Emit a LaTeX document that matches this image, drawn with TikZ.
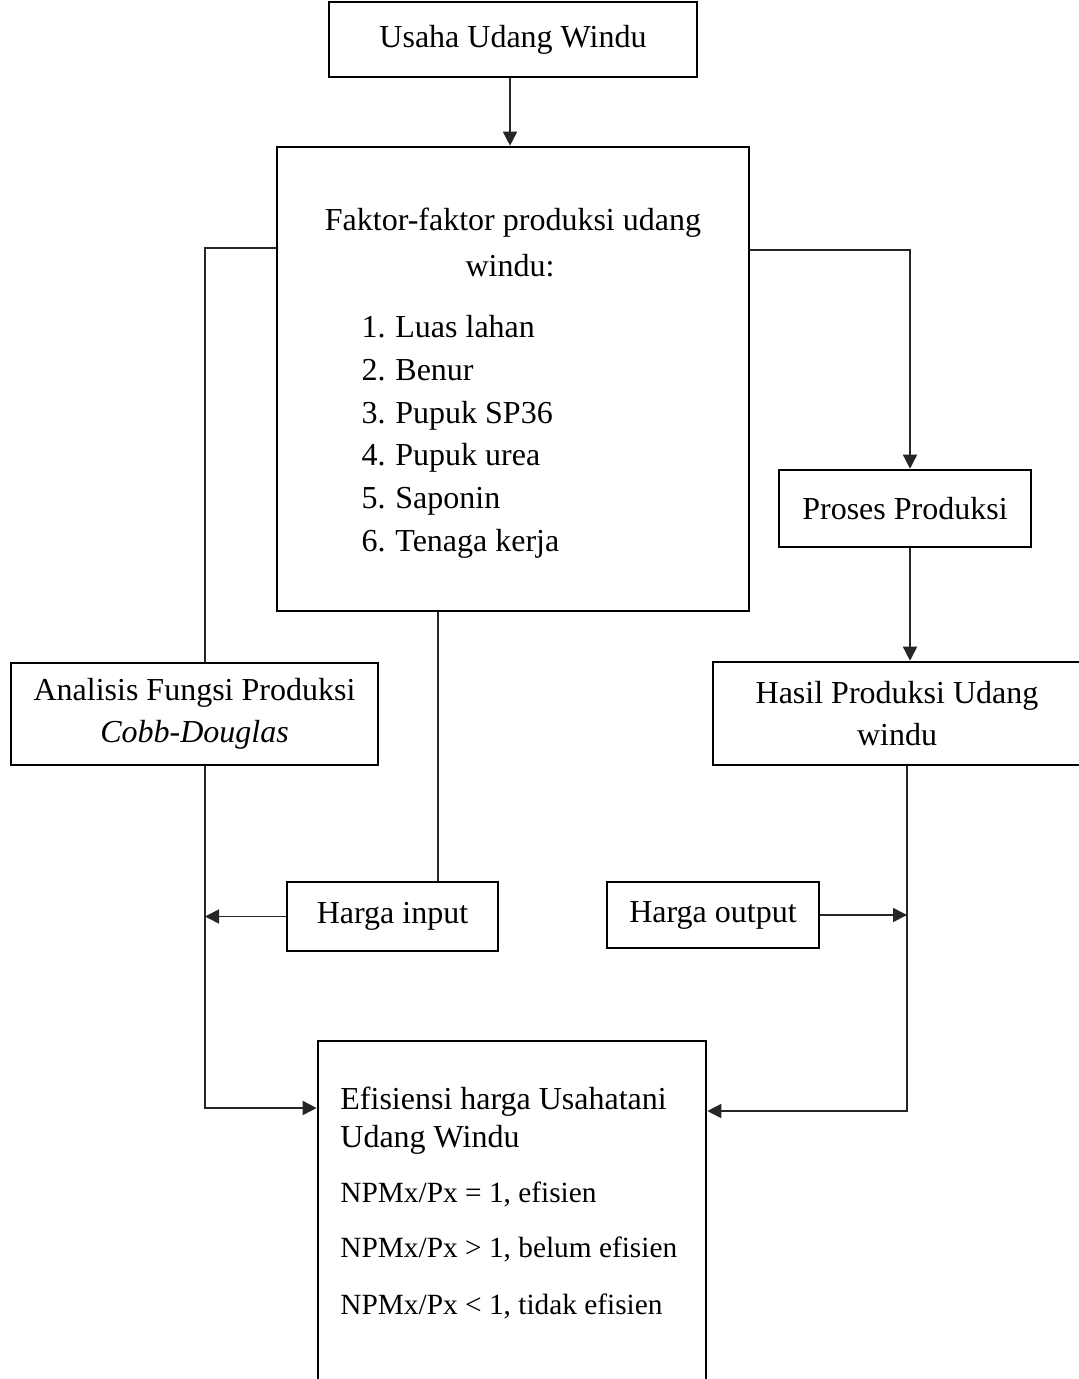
\documentclass[tikz,border=0pt]{standalone}
\usepackage{fontspec}
\setmainfont{Liberation Serif}
\usetikzlibrary{arrows.meta}
\begin{document}
\begin{tikzpicture}[x=0.5pt,y=-0.5pt,
  font=\fontsize{16}{21}\selectfont,
  box/.style={draw=black,line width=1.3pt,inner sep=0pt,align=center},
  conn/.style={draw=black!85,line width=0.8pt},
  arr/.style={conn,-{Triangle[length=7pt,width=7pt]}},
  txt/.style={inner sep=0pt},
  small/.style={txt,font=\fontsize{14.67}{18}\selectfont}]
\useasboundingbox (0,0) rectangle (1078,1379);
% boxes
\node[box,minimum width=184pt,minimum height=37.5pt] (top) at (513,39.5) {Usaha Udang Windu};
\node[box,minimum width=236pt,minimum height=232pt] (big) at (513,379) {};
\node[box,minimum width=183.5pt,minimum height=51pt] (ana) at (194.5,714) {Analisis Fungsi Produksi\\\textit{Cobb-Douglas}};
\node[box,minimum width=105.5pt,minimum height=34.5pt] (hin) at (392.5,916.5) {Harga input};
\node[box,minimum width=106pt,minimum height=33pt] (hout) at (713,915) {Harga output};
\node[box,minimum width=126pt,minimum height=38.5pt] (pro) at (905,508.5) {Proses Produksi};
\node[box,minimum width=184pt,minimum height=51.5pt] (has) at (897,713.5) {Hasil Produksi Udang\\windu};
\node[box,minimum width=194pt,minimum height=200pt] (eff) at (512,1241) {};
% texts in big box
\node[txt] (f1) at (513,223) {Faktor-faktor produksi udang};
\node[txt] (f2) at (510,266) {windu:};
\foreach \n/\t/\y in {1/Luas lahan/338,2/Benur/381,3/Pupuk SP36/423,4/Pupuk urea/466,5/Saponin/508,6/Tenaga kerja/551}{
  \node[txt,anchor=base east] (n\n) at (386,\y) {\n.};
  \node[txt,anchor=base west] (l\n) at (395,\y) {\t};
}
% texts in efficiency box
\node[txt,anchor=west] (e1) at (340,1102) {Efisiensi harga Usahatani};
\node[txt,anchor=west] (e2) at (340,1140) {Udang Windu};
\node[small,anchor=west] (e3) at (340,1194) {NPMx/Px = 1, efisien};
\node[small,anchor=west] (e4) at (340,1249) {NPMx/Px > 1, belum efisien};
\node[small,anchor=west] (e5) at (340,1306) {NPMx/Px < 1, tidak efisien};
% coordinates
\coordinate (lt) at (205,248);
\coordinate (lb) at (205,1108);
\coordinate (cin) at (438,0);
\coordinate (rt) at (910,250);
\coordinate (rb) at (907,1111);
% connectors
\draw[arr] (top.south -| 510,0) -- (big.north -| 510,0);
\draw[conn] (lt -| big.west) -- (lt) -- (lt |- ana.north);
\draw[arr] (lb |- ana.south) -- (lb) -- (lb -| eff.west);
\draw[conn] (cin |- big.south) -- (cin |- hin.north);
\draw[arr] (hin.west) -- (hin.west -| lb);
\draw[arr] (rt -| big.east) -- (rt) -- (rt |- pro.north);
\draw[arr] (rt |- pro.south) -- (rt |- has.north);
\draw[arr] (rb |- has.south) -- (rb) -- (rb -| eff.east);
\draw[arr] (hout.east) -- (hout.east -| rb);
\end{tikzpicture}
\end{document}
